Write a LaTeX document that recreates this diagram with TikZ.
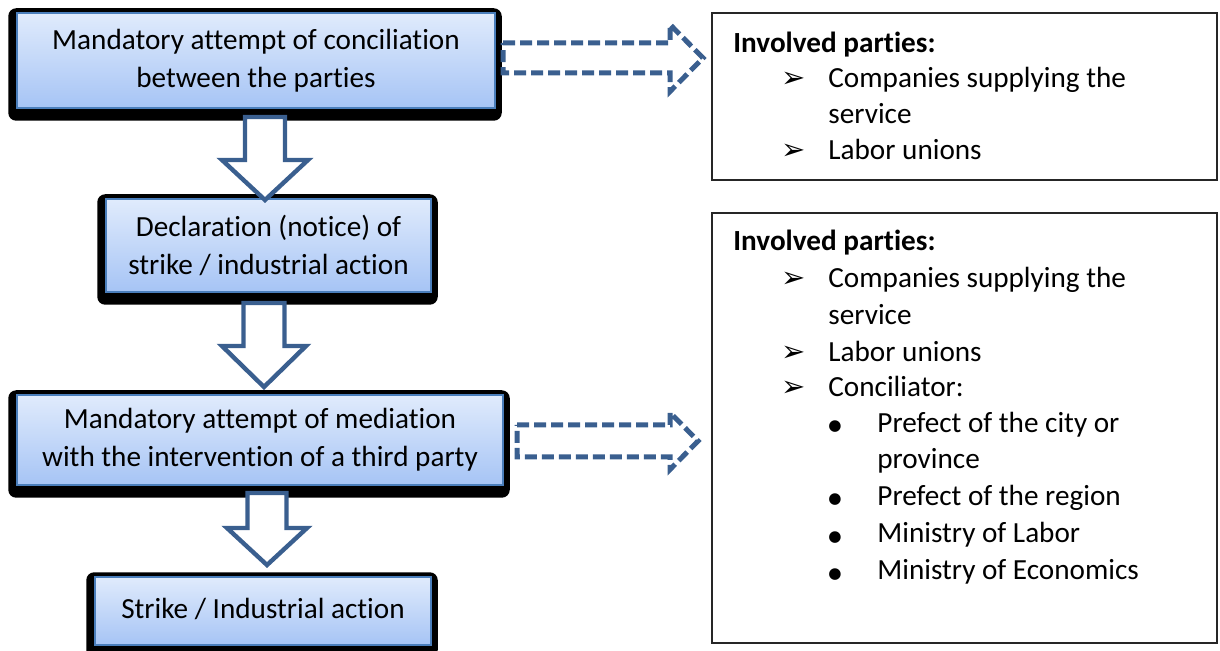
\documentclass[tikz,border=0pt]{standalone}
\usepackage{fontspec}
\setmainfont{Carlito}[Ligatures=NoCommon]
\newfontfamily\dejavu{DejaVu Sans}
\usetikzlibrary{calc,backgrounds}
\definecolor{arrowblue}{HTML}{3A5F8F}
\definecolor{boxedge}{HTML}{4A7EBB}
\definecolor{gtop}{HTML}{E0EBFC}
\definecolor{gbot}{HTML}{A6C4F5}
\newcommand\mainfs{\fontsize{14.6}{18.8}\selectfont}
\newcommand\arr{{\dejavu\fontsize{14.5}{14.5}\selectfont ➢}}
\newcommand\bul{{\dejavu\fontsize{7.6}{8}\selectfont ●}}
\newcommand\bdown[5]{%
  \draw[barrow] ($(#1)+(-#3,0)$) -- ($(#2)+(-#3,-#5)$) -- ($(#2)+(-#4,-#5)$) -- (#2)
    -- ($(#2)+(#4,-#5)$) -- ($(#2)+(#3,-#5)$) -- ($(#1)+(#3,0)$) -- cycle;}
\newcommand\dright[5]{%
  \draw[darrow] ($(#1)+(0,-#3)$) -- ($(#2)+(-#5,-#3)$) -- ($(#2)+(-#5,-#4)$) -- (#2)
    -- ($(#2)+(-#5,#4)$) -- ($(#2)+(-#5,#3)$) -- ($(#1)+(0,#3)$) -- cycle;}
\tikzset{
  lbox/.style={draw=boxedge, line width=0.75pt, top color=gtop, bottom color=gbot,
    inner sep=0pt, align=center, font=\mainfs},
  rbox/.style={draw=black!85, line width=0.6pt, inner sep=0pt},
  barrow/.style={draw=arrowblue, line width=2.2pt, fill=white, line join=miter},
  darrow/.style={draw=arrowblue, line width=2.5pt, dash pattern=on 6pt off 2.5pt, line join=miter},
  txt/.style={anchor=base west, inner sep=0pt, font=\mainfs},
  shadowbox/.style={fill=black, rounded corners=4pt}
}
\begin{document}
\begin{tikzpicture}[x=0.5pt,y=-0.5pt]
\useasboundingbox (0,0) rectangle (1220,651);
% left boxes
\node[lbox, minimum width=239pt, minimum height=47.5pt] (b1) at (256,60.5)
  {Mandatory attempt of conciliation\\between the parties};
\node[lbox, minimum width=162.5pt, minimum height=46.5pt] (b2) at (268.5,245.5)
  {Declaration (notice) of\\strike / industrial action};
\node[lbox, minimum width=243pt, minimum height=45pt] (b3) at (260,440)
  {Mandatory attempt of mediation\\with the intervention of a third party};
\node[lbox, minimum width=168pt, minimum height=34pt] (b4) at (263,611)
  {\raisebox{2.5pt}{Strike / Industrial action}};
\begin{scope}[on background layer]
  \foreach \b in {b1,b2,b3,b4}
    \fill[shadowbox] ($(\b.north west)+(-8,-4)$) rectangle ($(\b.south east)+(6,12)$);
\end{scope}
% down arrows
\coordinate (a1t) at (265,117); \coordinate (a1e) at (265,200);
\coordinate (a2t) at (264,303); \coordinate (a2e) at (264,387);
\coordinate (a3t) at (267,493); \coordinate (a3e) at (267,565);
\bdown{a1t}{a1e}{20}{43}{40}
\bdown{a2t}{a2e}{20.5}{42}{41}
\bdown{a3t}{a3e}{19.5}{40}{37}
% right boxes
\node[rbox, minimum width=252.5pt, minimum height=83.5pt] (rA) at (964.5,96.5) {};
\node[rbox, minimum width=252.5pt, minimum height=215pt] (rB) at (964.5,428) {};
% dashed arrows
\coordinate (dA1) at (503,58); \coordinate (dA2) at (703,58);
\coordinate (dB1) at (517,441); \coordinate (dB2) at (698,441);
\dright{dA1}{dA2}{15}{33.5}{33}
\dright{dB1}{dB2}{16}{28.5}{28}
% texts box A
\node[txt] (tA0) at (733,53) {\bfseries Involved parties:};
\node[txt] (tA1b) at (781,88) {\arr};
\node[txt] (tA1) at (828,88) {Companies supplying the};
\node[txt] (tA2) at (828,124) {service};
\node[txt] (tA3b) at (781,160) {\arr};
\node[txt] (tA3) at (828,160) {Labor unions};
% texts box B
\node[txt] (tB0) at (733,251) {\bfseries Involved parties:};
\node[txt] (tB1b) at (781,288) {\arr};
\node[txt] (tB1) at (828,288) {Companies supplying the};
\node[txt] (tB2) at (828,325) {service};
\node[txt] (tB3b) at (781,362) {\arr};
\node[txt] (tB3) at (828,362) {Labor unions};
\node[txt] (tB4b) at (781,397) {\arr};
\node[txt] (tB4) at (828,397) {Conciliator:};
\node[txt] (tB5b) at (828,431) {\bul};
\node[txt] (tB5) at (877,433) {Prefect of the city or};
\node[txt] (tB6) at (877,469) {province};
\node[txt] (tB7b) at (828,504) {\bul};
\node[txt] (tB7) at (877,506) {Prefect of the region};
\node[txt] (tB8b) at (828,541) {\bul};
\node[txt] (tB8) at (877,543) {Ministry of Labor};
\node[txt] (tB9b) at (828,578) {\bul};
\node[txt] (tB9) at (877,580) {Ministry of Economics};
\end{tikzpicture}
\end{document}
